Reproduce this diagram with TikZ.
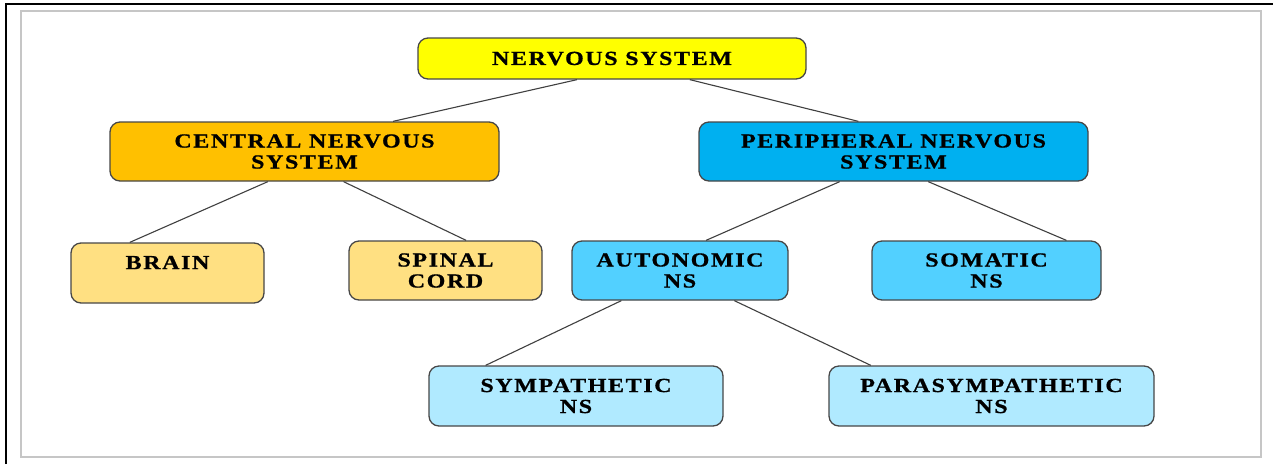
\documentclass[tikz,border=0pt]{standalone}
\usepackage{fontspec}
\setmainfont{Liberation Serif}[LetterSpace=8,FakeStretch=1.2,BoldFeatures={FakeBold=0.8}]
\usetikzlibrary{calc}
\definecolor{nsyellow}{HTML}{FFFF00}
\definecolor{cnsorange}{HTML}{FFC000}
\definecolor{cnslight}{HTML}{FFE082}
\definecolor{pnsblue}{HTML}{00B0F0}
\definecolor{pnsmid}{HTML}{52D0FF}
\definecolor{pnslight}{HTML}{B0EAFF}
\begin{document}
\begin{tikzpicture}[x=1pt,y=-1pt,
        box/.style={draw=black!72,line width=1.3pt,rounded corners=10pt,align=center,
            inner sep=0pt,font=\fontsize{20}{21}\selectfont\bfseries},
        link/.style={draw=black!75,line width=1.1pt}]
    \useasboundingbox (0,0) rectangle (1273,464);
    % frame and panel
    \draw[line width=1.2pt] (6,464) -- (6,4) -- (1273,4);
    \draw[gray!45,line width=2.5pt,fill=white] (21,11) rectangle (1261,457);

    \node[box,fill=nsyellow,minimum width=388pt,minimum height=41pt] (ns) at (612,58.5) {NERVOUS SYSTEM};
    \node[box,fill=cnsorange,minimum width=389pt,minimum height=59pt] (cns) at (304.5,151.5) {CENTRAL NERVOUS\\SYSTEM};
    \node[box,fill=pnsblue,minimum width=389pt,minimum height=59pt] (pns) at (893.5,151.5) {PERIPHERAL NERVOUS\\SYSTEM};
    \node[box,fill=cnslight,minimum width=193pt,minimum height=60pt] (brain) at (167.5,273) {BRAIN\\\mbox{}};
    \node[box,fill=cnslight,minimum width=193pt,minimum height=59pt] (spinal) at (445.5,270.5) {SPINAL\\CORD};
    \node[box,fill=pnsmid,minimum width=216pt,minimum height=59pt] (auto) at (680,270.5) {AUTONOMIC\\NS};
    \node[box,fill=pnsmid,minimum width=229pt,minimum height=59pt] (soma) at (986.5,270.5) {SOMATIC\\NS};
    \node[box,fill=pnslight,minimum width=294pt,minimum height=60pt] (symp) at (576,396) {SYMPATHETIC\\NS};
    \node[box,fill=pnslight,minimum width=325pt,minimum height=60pt] (para) at (991.5,396) {PARASYMPATHETIC\\NS};

    \draw[link] ($(ns.south west)!0.41!(ns.south east)$) -- ($(cns.north west)!0.727!(cns.north east)$);
    \draw[link] ($(ns.south west)!0.70!(ns.south east)$) -- ($(pns.north west)!0.41!(pns.north east)$);
    \draw[link] ($(cns.south west)!0.406!(cns.south east)$) -- ($(brain.north west)!0.306!(brain.north east)$);
    \draw[link] ($(cns.south west)!0.60!(cns.south east)$) -- ($(spinal.north west)!0.606!(spinal.north east)$);
    \draw[link] ($(pns.south west)!0.362!(pns.south east)$) -- ($(auto.north west)!0.62!(auto.north east)$);
    \draw[link] ($(pns.south west)!0.589!(pns.south east)$) -- ($(soma.north west)!0.847!(soma.north east)$);
    \draw[link] ($(auto.south west)!0.23!(auto.south east)$) -- ($(symp.north west)!0.194!(symp.north east)$);
    \draw[link] ($(auto.south west)!0.75!(auto.south east)$) -- ($(para.north west)!0.13!(para.north east)$);
\end{tikzpicture}
\end{document}
